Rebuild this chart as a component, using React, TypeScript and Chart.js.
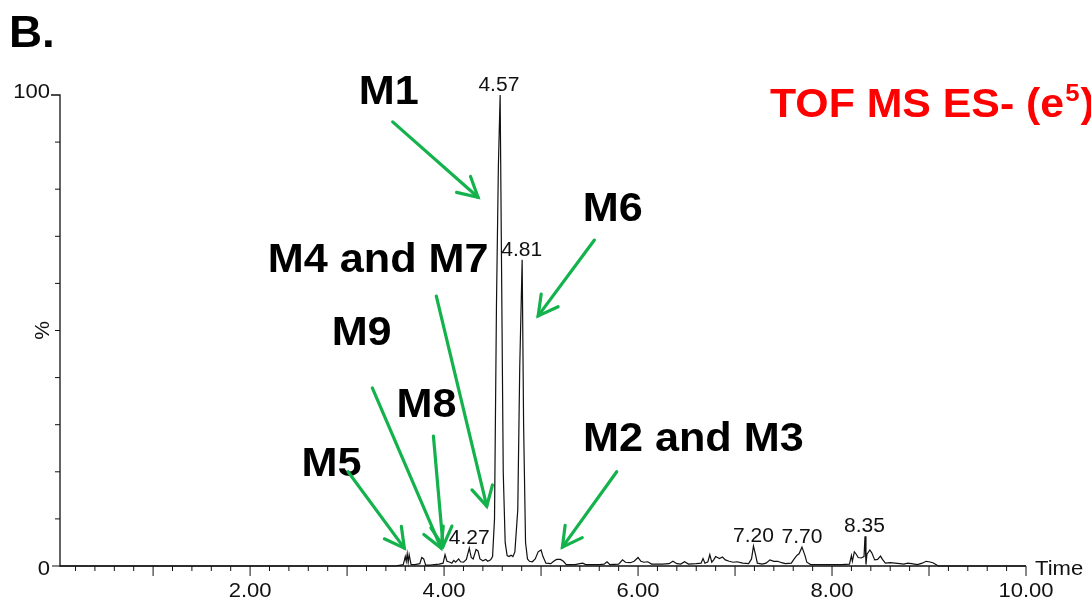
import { useEffect, useRef } from 'react';
import { Chart, registerables } from 'chart.js';

Chart.register(...registerables);

// Chromatogram trace (retention time in min, relative intensity in %)
const traceTime = [
  0.04, 3.5, 3.55, 3.58, 3.6, 3.61, 3.62, 3.63, 3.64, 3.66, 3.7, 3.75, 3.77, 3.79, 3.81, 3.86, 3.9, 3.95,
  3.99, 4.01, 4.03, 4.06, 4.08, 4.1, 4.12, 4.15, 4.17, 4.2, 4.23, 4.26, 4.28, 4.3, 4.33, 4.35, 4.37, 4.4,
  4.43, 4.45, 4.48, 4.5, 4.52, 4.54, 4.56, 4.578, 4.59, 4.6, 4.61, 4.63, 4.65, 4.67, 4.69, 4.71, 4.73,
  4.76, 4.78, 4.805, 4.82, 4.84, 4.86, 4.88, 4.91, 4.94, 4.97, 5.0, 5.02, 5.05, 5.1, 5.13, 5.16, 5.2, 5.23,
  5.26, 5.35, 5.4, 5.43, 5.46, 5.6, 5.65, 5.68, 5.71, 5.8, 5.84, 5.87, 5.92, 5.96, 6.0, 6.03, 6.06, 6.1,
  6.14, 6.25, 6.32, 6.36, 6.4, 6.44, 6.48, 6.52, 6.6, 6.65, 6.67, 6.69, 6.72, 6.74, 6.76, 6.78, 6.8, 6.84,
  6.87, 6.9, 6.94, 6.98, 7.02, 7.08, 7.14, 7.17, 7.19, 7.21, 7.23, 7.28, 7.32, 7.36, 7.4, 7.44, 7.48,
  7.52, 7.58, 7.61, 7.64, 7.66, 7.69, 7.72, 7.74, 7.78, 7.9, 8.0, 8.1, 8.18, 8.2, 8.21, 8.23, 8.25, 8.27,
  8.3, 8.33, 8.34, 8.35, 8.36, 8.39, 8.41, 8.44, 8.47, 8.5, 8.52, 8.55, 8.6, 8.65, 8.7, 8.74, 8.78, 8.82,
  8.88, 8.93, 8.97, 9.0, 9.04, 9.08, 9.1, 10.0,
];
const traceIntensity = [
  0, 0, 0.2, 0.3, 2.0, 1.0, 2.6, 0.8, 2.4, 0.3, 0.3, 0.5, 1.8, 1.5, 0.2, 0.2, 0.3, 0.4,
  0.6, 2.4, 1.0, 0.8, 0.6, 1.2, 0.8, 1.5, 0.9, 0.8, 1.4, 3.8, 1.8, 1.5, 3.5, 3.2, 1.5, 1.1,
  1.4, 1.0, 1.3, 2.0, 10, 55, 85, 100, 70, 45, 20, 5, 2.2, 2.0, 2.3, 2.0, 3,
  12, 42, 65, 30, 5, 1.5, 1.0, 0.9, 1.5, 3.0, 3.4, 2.0, 0.6, 0.5, 1.0, 1.4, 1.4, 1.0,
  0.3, 0.3, 0.5, 0.6, 0.3, 0.3, 0.4, 0.9, 0.3, 0.4, 1.3, 0.8, 0.7, 1.0, 1.8, 1.0, 0.8, 0.9,
  0.4, 0.4, 0.5, 1.0, 0.5, 0.4, 0.9, 0.4, 0.5, 0.6, 1.6, 0.6, 0.9, 2.4, 0.8, 1.3, 2.0, 1.6,
  1.9, 1.3, 1.0, 0.8, 0.9, 0.6, 0.5, 1.5, 4.2, 2.5, 0.6, 0.4, 0.6, 1.3, 1.0, 1.0, 0.7,
  0.5, 0.6, 1.5, 2.3, 2.6, 4.0, 2.3, 0.8, 0.3, 0.3, 0.3, 0.3, 0.4, 2.2, 1.0, 3.0, 2.5, 1.8,
  1.7, 2.0, 6.3, 0.3, 2.5, 3.4, 2.8, 1.3, 1.4, 2.1, 1.4, 0.6, 0.7, 0.6, 0.5, 0.4, 0.6, 0.5,
  0.3, 0.6, 1.0, 0.9, 0.7, 0.2, 0, 0,
];

// Labelled peaks
const peakTimes = [4.565, 4.8, 4.26, 7.19, 7.69, 8.335];
const peakHeights = [100, 65, 3.8, 4.2, 4.0, 6.3];
const peakLabels = ['4.57', '4.81', '4.27', '7.20', '7.70', '8.35'];

// Axis ticks
const xTickValues = [2, 4, 6, 8, 10];
const xTickLabels = ['2.00', '4.00', '6.00', '8.00', '10.00'];
const yTickValues = [0, 100];
const yTickLabels = ['0', '100'];

// Metabolite annotations (data coordinates)
const metaboliteNames = ['M1', 'M6', 'M4 and M7', 'M9', 'M8', 'M5', 'M2 and M3'];
const metaboliteLabelT = [3.43, 5.74, 3.32, 3.15, 3.82, 2.84, 6.57];
const metaboliteLabelI = [101.1, 76.4, 65.6, 50.1, 34.8, 22.1, 27.6];
const arrowFromT = [3.47, 5.55, 3.92, 3.26, 3.89, 3.01, 5.78];
const arrowFromI = [94.3, 69.2, 57.3, 37.8, 27.6, 20.0, 20.0];
const arrowToT = [4.35, 4.97, 4.44, 3.97, 3.99, 3.59, 5.22];
const arrowToI = [78.3, 53.1, 12.7, 3.8, 4.2, 3.8, 4.0];

const FONT = '"Liberation Sans", Arial, sans-serif';
const GREEN = 'rgb(20,178,76)';

function textX(
  ctx: CanvasRenderingContext2D,
  text: string,
  x: number,
  y: number,
  sx: number,
  align: CanvasTextAlign,
) {
  ctx.save();
  ctx.translate(x, y);
  ctx.scale(sx, 1);
  ctx.textAlign = align;
  ctx.fillText(text, 0, 0);
  ctx.restore();
}

const overlayPlugin = {
  id: 'overlay',
  afterDraw(chart: any) {
    const ctx: CanvasRenderingContext2D = chart.ctx;
    const xs = chart.scales.x;
    const ys = chart.scales.y;
    const px = (t: number) => xs.getPixelForValue(t);
    const py = (v: number) => ys.getPixelForValue(v);
    const left = chart.chartArea.left;
    const y0 = py(0);
    const y100 = py(100);

    ctx.save();
    // Axes
    ctx.strokeStyle = '#111';
    ctx.lineWidth = 1.3;
    ctx.beginPath();
    ctx.moveTo(left - 9, y100);
    ctx.lineTo(left, y100);
    ctx.lineTo(left, y0);
    ctx.lineTo(px(10), y0);
    ctx.stroke();

    // y ticks
    ctx.lineWidth = 1;
    ctx.beginPath();
    for (let v = 10; v <= 90; v += 10) {
      ctx.moveTo(left - 5, py(v));
      ctx.lineTo(left, py(v));
    }
    ctx.moveTo(left - 8, y0);
    ctx.lineTo(left, y0);
    ctx.stroke();

    // x ticks
    ctx.beginPath();
    for (let k = 1; k <= 50; k++) {
      const t = k * 0.2;
      const major = k % 5 === 0;
      ctx.moveTo(px(t), y0);
      ctx.lineTo(px(t), y0 + (major ? 10 : 5));
    }
    ctx.stroke();

    // tick labels
    ctx.fillStyle = '#111';
    ctx.font = `21px ${FONT}`;
    ctx.textBaseline = 'alphabetic';
    xTickValues.forEach((v, i) => textX(ctx, xTickLabels[i], px(v), y0 + 31, 1.05, 'center'));
    yTickValues.forEach((v, i) => {
      const yy = v === 100 ? py(v) - 5 : py(v) + 1;
      textX(ctx, yTickLabels[i], left - 10, yy + 7.5, 1.05, 'right');
    });
    textX(ctx, 'Time', px(10) + 9, y0 + 9, 1.05, 'left');

    // % label
    ctx.save();
    ctx.translate(left - 11, py(50));
    ctx.rotate(-Math.PI / 2);
    ctx.textAlign = 'center';
    ctx.fillText('%', 0, 0);
    ctx.restore();

    // peak labels
    ctx.font = `20px ${FONT}`;
    peakTimes.forEach((t, i) => {
      textX(ctx, peakLabels[i], px(t), py(peakHeights[i]) - 4, 1.05, 'center');
    });

    // panel letter
    ctx.font = `bold 44px ${FONT}`;
    ctx.fillStyle = '#000';
    textX(ctx, 'B.', 9, 47, 1.04, 'left');

    // title
    ctx.fillStyle = '#ff0000';
    const sx = 1.07;
    ctx.font = `bold 40px ${FONT}`;
    const main = 'TOF MS ES- (e';
    let tx = 770;
    textX(ctx, main, tx, 117, sx, 'left');
    tx += (ctx.measureText(main).width + 1) * sx;
    ctx.font = `bold 24px ${FONT}`;
    textX(ctx, '5', tx, 101, sx, 'left');
    tx += (ctx.measureText('5').width + 1) * sx;
    ctx.font = `bold 40px ${FONT}`;
    textX(ctx, ')', tx, 117, sx, 'left');

    // metabolite labels
    ctx.fillStyle = '#000';
    ctx.font = `bold 40px ${FONT}`;
    metaboliteNames.forEach((n, i) => {
      textX(ctx, n, px(metaboliteLabelT[i]), py(metaboliteLabelI[i]) + 14.5, 1.08, 'center');
    });

    // arrows
    ctx.strokeStyle = GREEN;
    ctx.lineWidth = 3.2;
    ctx.lineCap = 'round';
    ctx.lineJoin = 'miter';
    arrowFromT.forEach((_, i) => {
      const x1 = px(arrowFromT[i]);
      const y1 = py(arrowFromI[i]);
      const x2 = px(arrowToT[i]);
      const y2 = py(arrowToI[i]);
      const ang = Math.atan2(y2 - y1, x2 - x1);
      const head = 22;
      const spread = 0.5;
      ctx.beginPath();
      ctx.moveTo(x1, y1);
      ctx.lineTo(x2, y2);
      ctx.stroke();
      ctx.beginPath();
      ctx.moveTo(x2 - head * Math.cos(ang - spread), y2 - head * Math.sin(ang - spread));
      ctx.lineTo(x2, y2);
      ctx.lineTo(x2 - head * Math.cos(ang + spread), y2 - head * Math.sin(ang + spread));
      ctx.stroke();
    });
    ctx.restore();
  },
};

export default function App() {
  const ref = useRef<HTMLCanvasElement | null>(null);
  useEffect(() => {
    document.body.style.margin = '0';
    const canvas = ref.current;
    if (!canvas) return;
    const data = traceTime.map((t, i) => ({ x: t, y: traceIntensity[i] }));
    const chart = new Chart(canvas, {
      type: 'line',
      data: {
        datasets: [
          {
            data,
            borderColor: '#111',
            borderWidth: 1.2,
            pointRadius: 0,
            tension: 0,
            fill: false,
            clip: false as any,
          },
        ],
      },
      options: {
        animation: false,
        responsive: false,
        devicePixelRatio: 1,
        layout: { padding: { left: 60, right: 65, top: 95, bottom: 32 } },
        plugins: { legend: { display: false }, tooltip: { enabled: false } },
        scales: {
          x: { type: 'linear', min: 0.04, max: 10, display: false },
          y: { type: 'linear', min: 0, max: 100, display: false },
        },
      },
      plugins: [overlayPlugin],
    });
    return () => chart.destroy();
  }, []);
  return (
    <div style={{ width: 1091, height: 598, background: '#fff' }}>
      <canvas ref={ref} width={1091} height={598} style={{ display: 'block' }} />
    </div>
  );
}
